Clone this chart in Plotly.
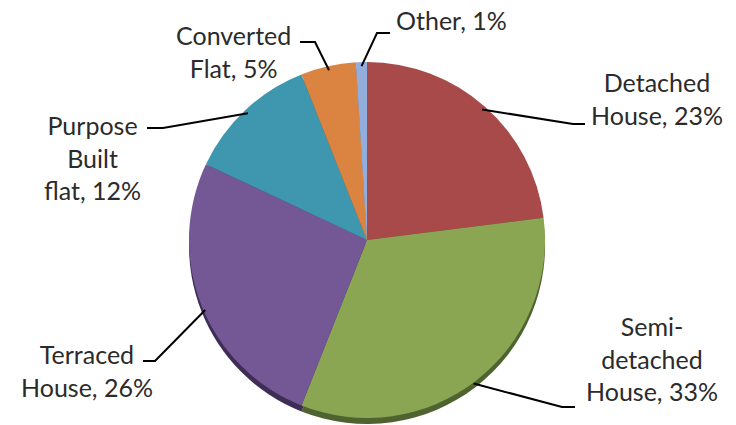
import math
import plotly.graph_objects as go

# ---- data ----
categories = ["Detached House", "Semi-detached House", "Terraced House",
              "Purpose Built flat", "Converted Flat", "Other"]
percent = [23, 33, 26, 12, 5, 1]
label_texts = ["Detached<br>House, 23%", "Semi-<br>detached<br>House, 33%",
               "Terraced<br>House, 26%", "Purpose<br>Built<br>flat, 12%",
               "Converted<br>Flat, 5%", "Other, 1%"]

# ---- styling / layout ----
colors = ["#A94A4A", "#8AA652", "#735895", "#3F97AF", "#DB8442", "#93AEDC"]
dark_colors = ["#6E2E2E", "#4F6330", "#3E2E55", "#245A68", "#8A4F25", "#5E74A0"]
W, H = 736, 425
CX, CY, R = 367, 240, 178
DEPTH = 6

# label placement (pixels): text centre, elbow point, horizontal end
label_pos = [(657, 98), (652, 358), (87, 370), (92, 157), (233, 51), (452, 20)]
elbow = [(573, 124), (562, 407), (155, 361), (163, 128), (315, 42), (377, 33)]
hend = [(585, 124), (575, 407), (143, 361), (147, 128), (300, 42), (390, 33)]


def px(x):
    return x / W


def py(y):
    return 1 - y / H


def domain(cx, cy, r):
    return dict(x=[px(cx - r), px(cx + r)],
                y=[max(0, py(cy + r)), min(1, py(cy - r))])


fig = go.Figure()
# 3D depth (shadow pie)
fig.add_trace(go.Pie(
    labels=categories, values=percent, sort=False, direction="clockwise",
    rotation=0, marker=dict(colors=dark_colors, line=dict(width=0)),
    textinfo="none", hoverinfo="skip", showlegend=False,
    domain=domain(CX, CY + DEPTH, R)))
fig.add_trace(go.Pie(
    labels=categories, values=percent, sort=False, direction="clockwise",
    rotation=0, marker=dict(colors=colors, line=dict(width=0)),
    textinfo="none", showlegend=False,
    domain=domain(CX, CY, R)))

# leader lines, anchored at each slice's mid-angle on the pie edge
total = sum(percent)
cum = 0
shapes = []
for i, v in enumerate(percent):
    mid = (cum + v / 2) / total * 2 * math.pi
    cum += v
    ex = CX + (R - 4) * math.sin(mid)
    ey = CY - (R - 4) * math.cos(mid)
    if math.cos(mid) < -0.3:
        ey += DEPTH
    path = "M {} {} L {} {} L {} {}".format(
        px(ex), py(ey), px(elbow[i][0]), py(elbow[i][1]),
        px(hend[i][0]), py(hend[i][1]))
    shapes.append(dict(type="path", path=path, xref="paper", yref="paper",
                       line=dict(color="black", width=2)))

annotations = []
for i, t in enumerate(label_texts):
    annotations.append(dict(
        text=t, x=px(label_pos[i][0]), y=py(label_pos[i][1]),
        xref="paper", yref="paper", showarrow=False, align="center",
        xanchor="center", yanchor="middle",
        font=dict(family="Lato", size=25, color="#2b2b2b")))

fig.update_layout(
    width=W, height=H, margin=dict(l=0, r=0, t=0, b=0),
    paper_bgcolor="white", plot_bgcolor="white",
    shapes=shapes, annotations=annotations)

fig.write_html("out.html", config={"displayModeBar": False},
               post_script="document.body.style.margin='0';")
